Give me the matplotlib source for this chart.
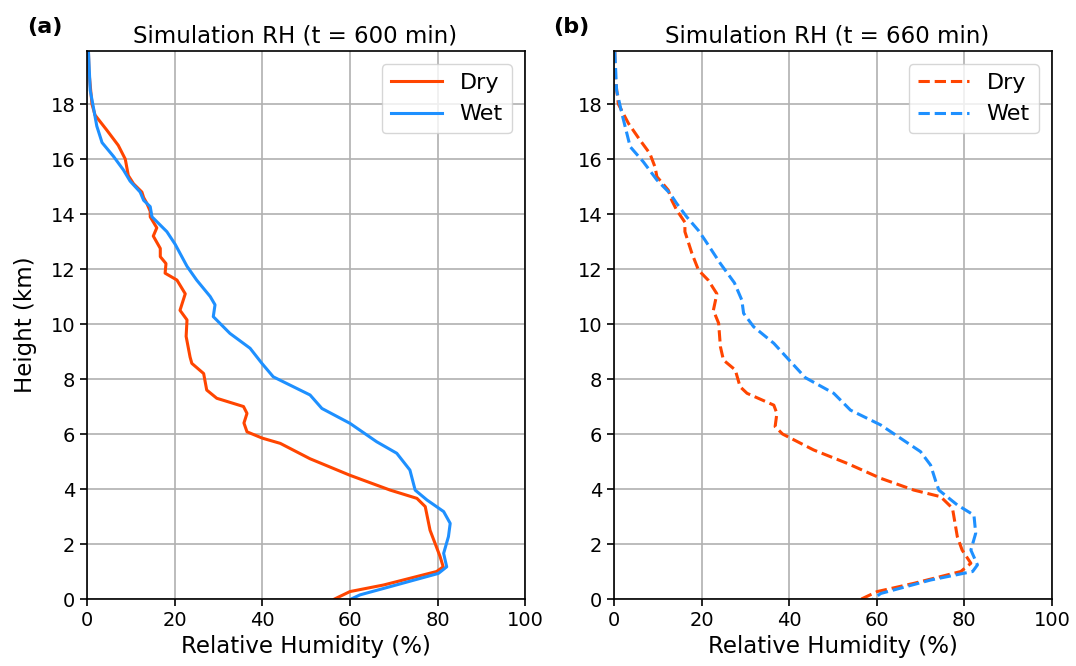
import matplotlib
matplotlib.use("Agg")
import matplotlib.pyplot as plt
import numpy as np

# Relative humidity profiles (%), height (km)
h_dry_600 = [19.9, 19.2, 18.0, 17.6, 17.05, 16.5, 16.0, 15.4, 15.1, 14.8, 14.6, 14.4, 14.1, 13.9,
             13.5, 13.2, 12.75, 12.45, 12.2, 11.85, 11.6, 11.1, 10.5, 10.15, 9.55, 8.8, 8.57, 8.2,
             7.6, 7.3, 7.0, 6.75, 6.4, 6.08, 5.85, 5.66, 5.1, 4.5, 3.96, 3.66, 3.36, 2.5, 1.54,
             1.17, 1.0, 0.51, 0.27, 0.0]
rh_dry_600 = [0.3, 0.4, 1.1, 1.8, 4.5, 7.1, 8.7, 9.4, 10.6, 12.5, 12.9, 13.6, 14.4, 14.4,
              15.9, 15.1, 16.7, 16.7, 18.0, 17.8, 20.5, 22.4, 21.2, 22.8, 22.6, 23.5, 23.9, 26.6,
              27.3, 29.6, 35.7, 36.5, 35.8, 36.5, 40.0, 44.1, 50.9, 60.0, 69.2, 75.3, 77.2, 78.3,
              80.6, 81.3, 79.8, 67.7, 60.0, 56.5]

h_wet_600 = [19.9, 18.5, 17.9, 17.2, 16.6, 16.1, 15.6, 15.2, 14.8, 14.5, 14.27, 13.9, 13.36,
             12.9, 12.1, 11.6, 11.0, 10.7, 10.27, 9.66, 9.12, 8.57, 8.08, 7.42, 6.93, 6.39, 5.72,
             5.3, 4.69, 3.96, 3.6, 3.18, 2.75, 2.27, 1.66, 1.17, 0.93, 0.45, 0.15, 0.0]
rh_wet_600 = [0.3, 0.7, 1.4, 2.2, 3.4, 6.0, 8.3, 9.8, 12.1, 12.9, 14.4, 14.8, 18.2,
              20.1, 22.8, 25.0, 28.1, 29.2, 28.8, 32.6, 37.2, 39.9, 42.5, 50.9, 53.6, 60.0, 66.1,
              70.7, 73.7, 74.9, 77.6, 81.4, 82.9, 82.5, 81.4, 82.1, 80.2, 69.2, 62.3, 60.3]

h_dry_660 = [19.9, 19.1, 18.0, 17.3, 16.7, 16.2, 15.7, 15.36, 14.87, 14.5, 14.15, 13.7, 13.36,
             12.57, 11.96, 11.6, 11.1, 10.5, 10.03, 9.18, 8.69, 8.33, 7.72, 7.48, 7.05, 6.75,
             6.27, 6.0, 5.42, 4.93, 4.39, 3.96, 3.72, 3.3, 2.27, 1.78, 1.3, 1.0, 0.57, 0.27, 0.0]
rh_dry_660 = [0.2, 0.2, 1.0, 3.3, 5.9, 8.2, 9.4, 9.8, 12.4, 13.2, 14.3, 16.2, 16.2,
              17.8, 19.3, 21.5, 23.5, 22.7, 23.9, 24.3, 25.0, 27.7, 28.8, 30.4, 36.5, 37.2,
              36.8, 38.5, 45.6, 53.3, 60.9, 68.5, 74.6, 77.3, 78.4, 79.5, 81.5, 79.2, 68.5, 60.1, 56.5]

h_wet_660 = [19.9, 18.5, 17.66, 16.45, 15.9, 15.24, 14.75, 14.39, 13.9, 13.4, 13.05, 12.2,
             11.5, 10.87, 10.39, 9.9, 9.3, 8.69, 8.05, 7.48, 6.87, 6.33, 5.36, 4.87, 4.27, 3.96,
             3.42, 3.05, 2.39, 1.78, 1.24, 1.0, 0.69, 0.2, 0.0]
rh_wet_660 = [0.2, 0.6, 1.8, 3.7, 6.7, 9.8, 12.8, 14.3, 16.6, 19.3, 20.8, 24.3,
              27.5, 29.2, 29.6, 31.9, 36.5, 40.0, 43.7, 50.2, 54.0, 60.9, 70.0, 72.3, 73.5, 74.2,
              78.4, 82.2, 82.6, 81.5, 83.0, 81.9, 72.3, 60.9, 59.2]

dry_color = "#FF4500"
wet_color = "#1E90FF"

fig = plt.figure(figsize=(10.76, 6.66), dpi=100)
ax_a = fig.add_axes([0.081, 0.1006, 0.407, 0.8228])
ax_b = fig.add_axes([0.5706, 0.1006, 0.407, 0.8228])

panels = [
    (ax_a, "Simulation RH (t = 600 min)", 0.475, rh_dry_600, h_dry_600, rh_wet_600, h_wet_600, "-"),
    (ax_b, "Simulation RH (t = 660 min)", 0.487, rh_dry_660, h_dry_660, rh_wet_660, h_wet_660, "--"),
]

for ax, title, tx, rd, hd, rw, hw, ls in panels:
    ax.plot(rd, hd, color=dry_color, lw=2.2, ls=ls, label="Dry")
    ax.plot(rw, hw, color=wet_color, lw=2.2, ls=ls, label="Wet")
    ax.set_xlim(0, 100)
    ax.set_ylim(0, 19.93)
    ax.set_xticks(np.arange(0, 101, 20))
    ax.set_yticks(np.arange(0, 19, 2))
    ax.grid(True, color="#b0b0b0", lw=1.2)
    ax.set_axisbelow(True)
    for sp in ax.spines.values():
        sp.set_linewidth(1.2)
    ax.tick_params(labelsize=14, length=5, width=1.2)
    ax.set_xlabel("Relative Humidity (%)", fontsize=16.5, labelpad=4)
    ax.set_title(title, fontsize=16.5, pad=6, x=tx)
    ax.legend(loc="upper right", fontsize=16, handlelength=2.3, borderaxespad=0.6)

ax_a.set_ylabel("Height (km)", fontsize=16.5, labelpad=10)
fig.text(0.025, 0.951, "(a)", fontsize=16, fontweight="bold")
fig.text(0.514, 0.951, "(b)", fontsize=16, fontweight="bold")

fig.savefig("out.png", dpi=100)
